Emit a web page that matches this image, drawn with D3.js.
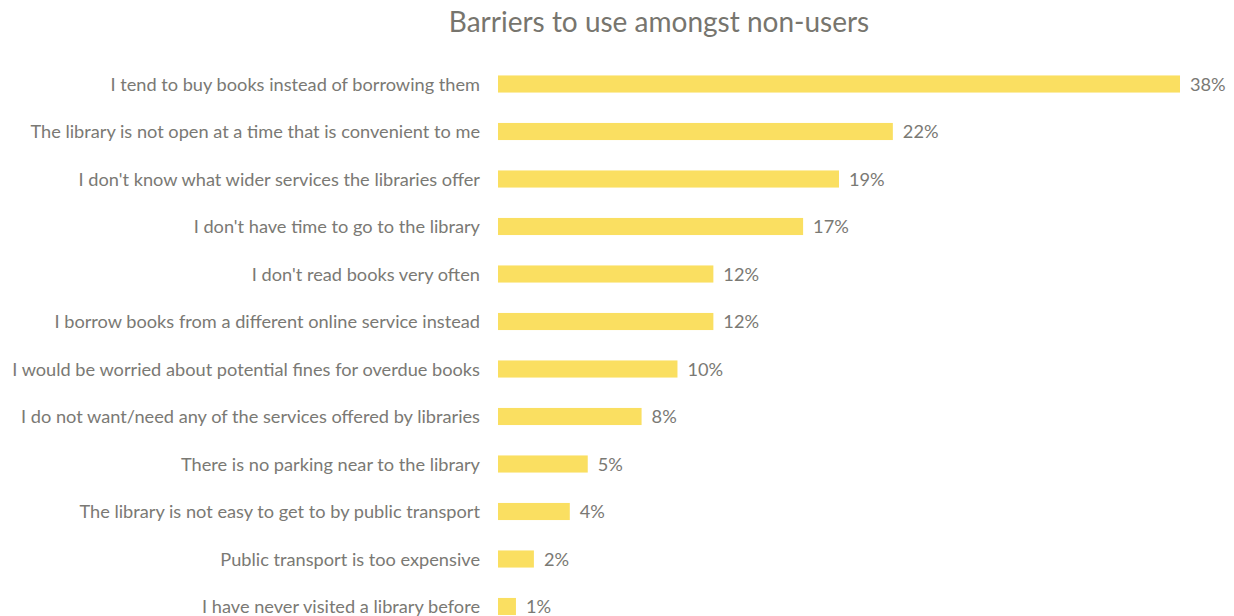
<!DOCTYPE html>
<html>
<head>
<meta charset="utf-8">
<script src="https://cdn.jsdelivr.net/npm/d3@7"></script>
<style>
  html, body { margin: 0; padding: 0; background: #ffffff; }
  svg { display: block; }
  text { font-family: Lato, "Open Sans", sans-serif; }
</style>
</head>
<body>
<svg id="chart" width="1234" height="616"></svg>
<script>
// Survey responses: reasons non-users give for not using the library
const categories = [
  "I tend to buy books instead of borrowing them",
  "The library is not open at a time that is convenient to me",
  "I don't know what wider services the libraries offer",
  "I don't have time to go to the library",
  "I don't read books very often",
  "I borrow books from a different online service instead",
  "I would be worried about potential fines for overdue books",
  "I do not want/need any of the services offered by libraries",
  "There is no parking near to the library",
  "The library is not easy to get to by public transport",
  "Public transport is too expensive",
  "I have never visited a library before"
];
const values = [0.38, 0.22, 0.19, 0.17, 0.12, 0.12, 0.10, 0.08, 0.05, 0.04, 0.02, 0.01];
const titleText = "Barriers to use amongst non-users";

const svg = d3.select("#chart");
const plotLeft = 498, plotRight = 1180;
const plotTop = 60.25, plotBottom = 630.25;

const x = d3.scaleLinear().domain([0, 0.38]).range([plotLeft, plotRight]);
const y = d3.scaleBand().domain(categories).range([plotTop, plotBottom]).paddingInner(0.64).paddingOuter(0.32);
const fmt = d3.format(".0%");
const textColor = "#7a7974";

svg.append("text")
  .attr("x", 659).attr("y", 32)
  .attr("text-anchor", "middle")
  .attr("font-size", 28)
  .attr("fill", "#77756e")
  .text(titleText);

const rows = svg.append("g").selectAll("g")
  .data(categories.map((c, i) => ({ c, v: values[i] })))
  .join("g");

rows.append("rect")
  .attr("x", x(0))
  .attr("y", d => y(d.c))
  .attr("width", d => x(d.v) - x(0))
  .attr("height", y.bandwidth())
  .attr("fill", "#fadf61");

rows.append("text")
  .attr("x", 480)
  .attr("y", d => y(d.c) + y.bandwidth() / 2)
  .attr("dy", "0.36em")
  .attr("text-anchor", "end")
  .attr("font-size", 18.2)
  .attr("fill", textColor)
  .text(d => d.c);

rows.append("text")
  .attr("x", d => x(d.v) + 10)
  .attr("y", d => y(d.c) + y.bandwidth() / 2)
  .attr("dy", "0.36em")
  .attr("font-size", 18.2)
  .attr("fill", textColor)
  .text(d => fmt(d.v));
</script>
</body>
</html>
